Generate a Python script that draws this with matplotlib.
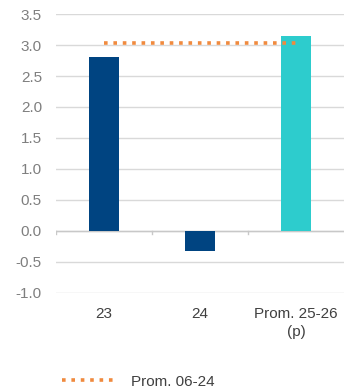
"""Bar chart: annual values vs. the 2006-24 average (dotted reference line)."""
import matplotlib.pyplot as plt
import numpy as np

CATEGORIES = ["23", "24", "Prom. 25-26\n(p)"]
VALUES = [2.8, -0.33, 3.15]
BAR_COLORS = ["#004481", "#004481", "#2DCCCD"]
AVG_LABEL = "Prom. 06-24"
AVG_VALUE = 3.03
Y_TICKS = [-1.0, -0.5, 0.0, 0.5, 1.0, 1.5, 2.0, 2.5, 3.0, 3.5]

GRID = "#D9D9D9"
TEXT = "#7F7F7F"
ORANGE = "#F08A3E"


def main() -> None:
    plt.rcParams["font.family"] = ["Liberation Sans", "DejaVu Sans"]

    fig = plt.figure(figsize=(3.47, 3.90), dpi=100)
    ax = fig.add_axes([0.161, 0.249, 0.830, 0.715])

    x = np.arange(len(CATEGORIES))
    ax.bar(x, VALUES, width=0.32, color=BAR_COLORS, zorder=2)
    ax.plot([x[0], x[-1]], [AVG_VALUE, AVG_VALUE], linestyle=(0, (1, 1.6)),
            color=ORANGE, linewidth=2.6, zorder=3, label=AVG_LABEL)

    ax.set_xlim(-0.5, len(CATEGORIES) - 0.5)
    ax.set_ylim(-1.0, 3.5)
    ax.set_yticks(Y_TICKS)
    ax.set_yticklabels([f"{v:.1f}" for v in Y_TICKS])
    ax.yaxis.grid(True, color=GRID, linewidth=1.0, zorder=0)
    ax.set_axisbelow(True)
    for side in ["top", "right", "left", "bottom"]:
        ax.spines[side].set_visible(False)
    ax.axhline(0, color="#C8C8C8", linewidth=1.0, zorder=1)

    # category boundaries as small ticks hanging from the zero line
    for b in np.arange(-0.5, len(CATEGORIES) - 0.5, 1.0):
        ax.plot([b, b], [0, -0.05], color="#C8C8C8", linewidth=1.0, zorder=1)

    ax.set_xticks(x)
    ax.set_xticklabels(CATEGORIES, color="#404040", fontsize=11, linespacing=1.35)
    ax.tick_params(axis="x", length=0, pad=10)
    ax.tick_params(axis="y", length=0, pad=10, labelcolor=TEXT, labelsize=11)

    fig.legend(loc="center left", bbox_to_anchor=(0.179, 0.021), frameon=False,
               borderpad=0, borderaxespad=0, fontsize=11, labelcolor="#404040",
               handlelength=3.3, handletextpad=1.2)

    fig.savefig("out.png", dpi=100)


if __name__ == "__main__":
    main()
